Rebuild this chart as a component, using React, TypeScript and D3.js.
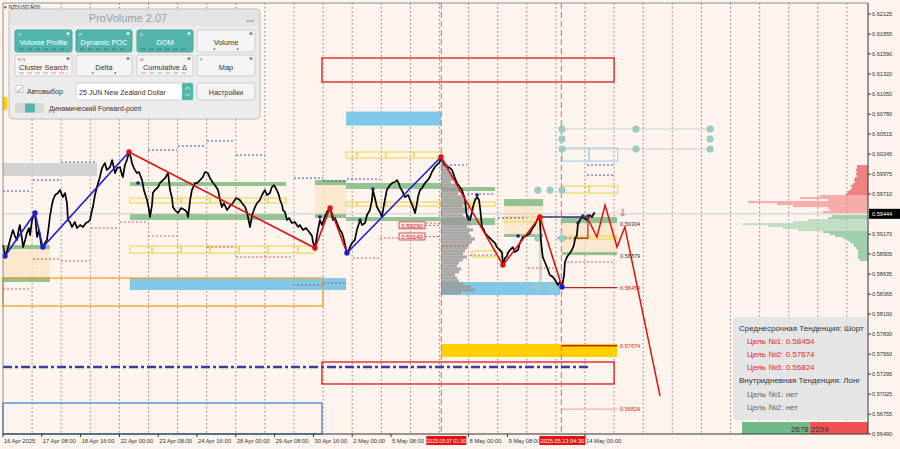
import React from 'react';
import * as d3 from 'd3';

// ---------- data ----------
const yTickValues = [0.62125, 0.61855, 0.6159, 0.6132, 0.6105, 0.6078, 0.60515, 0.60245, 0.59975, 0.5971, 0.5917, 0.58905, 0.58635, 0.58365, 0.581, 0.5783, 0.5756, 0.57295, 0.57025, 0.56755, 0.5649];
const yTickLabels = ['0.62125', '0.61855', '0.61590', '0.61320', '0.61050', '0.60780', '0.60515', '0.60245', '0.59975', '0.59710', '0.59170', '0.58905', '0.58635', '0.58365', '0.58100', '0.57830', '0.57560', '0.57295', '0.57025', '0.56755', '0.56490'];
const currentPrice = 0.59444;
const xTickDays = [0, 1.333, 2.667, 4, 5.333, 6.667, 8, 9.333, 10.667, 12, 13.333, 16, 17.333, 20];
const xTickLabels = ['16 Apr 2025', '17 Apr 08:00', '18 Apr 16:00', '22 Apr 00:00', '23 Apr 08:00', '24 Apr 16:00', '28 Apr 00:00', '29 Apr 08:00', '30 Apr 16:00', '2 May 00:00', '5 May 08:00', '8 May 00:00', '9 May 08:00', '14 May 00:00'];
const markerDays = [15.0625, 19.1875];
const markerLabels = ['2025.05.07 01:30', '2025.05.13 04:30'];

const priceSeries: [number, number][] = [
  [0.00,0.59025],[0.07,0.58878],[0.17,0.58985],[0.24,0.59092],[0.34,0.59226],[0.41,0.59146],[0.48,0.59092],[0.55,0.59253],[0.58,0.59294],[0.65,0.59119],[0.69,0.58998],[0.76,0.59092],[0.82,0.59186],[0.89,0.59253],[0.93,0.59159],[1.00,0.59361],[1.07,0.59441],[1.10,0.59455],[1.13,0.59294],[1.17,0.59133],[1.24,0.59226],[1.31,0.59039],[1.37,0.58998],[1.44,0.59052],[1.51,0.59092],[1.58,0.59294],[1.61,0.59401],[1.68,0.59562],[1.72,0.59629],[1.79,0.59696],[1.89,0.59723],[1.96,0.59763],[2.06,0.59669],[2.13,0.59723],[2.20,0.59589],[2.23,0.59361],[2.30,0.59334],[2.37,0.59267],[2.47,0.59334],[2.54,0.59253],[2.65,0.59294],[2.75,0.59267],[2.85,0.59320],[2.92,0.59334],[2.99,0.59361],[3.06,0.59495],[3.09,0.59535],[3.16,0.59696],[3.23,0.59803],[3.30,0.59897],[3.33,0.59938],[3.40,0.60058],[3.50,0.60125],[3.57,0.60032],[3.68,0.60072],[3.75,0.60166],[3.85,0.59991],[3.92,0.60058],[4.02,0.60072],[4.09,0.59964],[4.12,0.59938],[4.19,0.60099],[4.26,0.60166],[4.33,0.60273],
  [4.40,0.60193],[4.43,0.60125],[4.50,0.60058],[4.60,0.59991],[4.67,0.60005],[4.78,0.59897],[4.84,0.59763],[4.95,0.59629],[5.02,0.59495],[5.05,0.59401],[5.12,0.59562],[5.15,0.59723],[5.22,0.59763],[5.33,0.59803],[5.39,0.59857],[5.50,0.59897],[5.57,0.59924],[5.67,0.59991],[5.70,0.59897],[5.74,0.59763],[5.81,0.59656],[5.84,0.59535],[5.91,0.59495],[6.01,0.59455],[6.12,0.59522],[6.25,0.59495],[6.32,0.59468],[6.36,0.59401],[6.43,0.59629],[6.49,0.59763],[6.60,0.59857],[6.67,0.59857],[6.77,0.59897],[6.87,0.59938],[6.94,0.60005],[7.04,0.59991],[7.11,0.59924],[7.22,0.59857],[7.28,0.59830],[7.39,0.59763],[7.46,0.59629],[7.52,0.59535],[7.59,0.59589],[7.70,0.59495],[7.80,0.59548],[7.90,0.59589],[8.01,0.59656],[8.14,0.59629],[8.21,0.59589],[8.32,0.59535],[8.38,0.59468],[8.49,0.59267],[8.56,0.59428],[8.66,0.59535],[8.73,0.59589],[8.83,0.59629],[8.90,0.59696],[9.00,0.59763],[9.07,0.59696],[9.17,0.59723],[9.24,0.59803],[9.31,0.59830],[9.41,0.59763],[9.48,0.59696],[9.52,0.59629],[9.59,0.59562],[9.62,0.59495],[9.69,0.59468],[9.76,0.59361],[9.83,0.59388],[9.93,0.59320],[10.03,0.59334],[10.14,0.59267],[10.20,0.59294],[10.31,0.59226],[10.41,0.59253],[10.55,0.59186],[10.62,0.59146],[10.65,0.59065],[10.72,0.58985],
  [10.79,0.59159],[10.89,0.59361],[10.96,0.59294],[11.06,0.59401],[11.13,0.59468],[11.24,0.59522],[11.30,0.59428],[11.34,0.59361],[11.41,0.59388],[11.48,0.59320],[11.58,0.59226],[11.65,0.59186],[11.72,0.59092],[11.82,0.58918],[11.89,0.58958],[11.92,0.58998],[11.99,0.59052],[12.09,0.59092],[12.16,0.59226],[12.27,0.59361],[12.34,0.59294],[12.44,0.59320],[12.51,0.59428],[12.61,0.59495],[12.68,0.59629],[12.71,0.59763],[12.78,0.59656],[12.85,0.59535],[12.95,0.59468],[13.02,0.59401],[13.09,0.59562],[13.19,0.59763],[13.30,0.59830],[13.37,0.59857],[13.47,0.59871],[13.54,0.59897],[13.61,0.59844],[13.64,0.59803],[13.74,0.59736],[13.81,0.59669],[13.92,0.59696],[13.99,0.59629],[14.09,0.59535],[14.16,0.59455],[14.23,0.59589],[14.26,0.59669],[14.33,0.59763],[14.40,0.59790],[14.50,0.59857],[14.60,0.59897],[14.67,0.59938],[14.74,0.60005],[14.84,0.60072],[14.91,0.60099],[15.01,0.60139],[15.05,0.60206],
  [15.12,0.60139],[15.19,0.60099],[15.26,0.60072],[15.36,0.60058],[15.43,0.60032],[15.53,0.59924],[15.60,0.59857],[15.70,0.59803],[15.77,0.59763],[15.84,0.59683],[15.88,0.59629],[15.91,0.59495],[15.95,0.59401],[16.01,0.59361],[16.05,0.59361],[16.12,0.59468],[16.15,0.59535],[16.22,0.59629],[16.29,0.59669],[16.36,0.59629],[16.39,0.59535],[16.42,0.59428],[16.46,0.59267],[16.53,0.59226],[16.56,0.59186],[16.66,0.59146],[16.73,0.59119],[16.80,0.59092],[16.91,0.59052],[16.97,0.58998],[17.08,0.58958],[17.15,0.58918],[17.18,0.58757],[17.25,0.58851],[17.32,0.58878],[17.35,0.58918],[17.42,0.58958],[17.52,0.58998],[17.59,0.58931],[17.70,0.58958],[17.76,0.59052],[17.87,0.59133],[17.97,0.59146],[18.11,0.59186],[18.18,0.59240],[18.28,0.59294],[18.38,0.59388],[18.45,0.59401],[18.48,0.59119],[18.52,0.58958],[18.55,0.58864],[18.62,0.58797],[18.73,0.58690],[18.79,0.58623],[18.90,0.58596],[18.97,0.58556],[19.07,0.58489],[19.14,0.58529],[19.21,0.58462],
  [19.28,0.58623],[19.31,0.58797],[19.38,0.58864],[19.48,0.58918],[19.55,0.58958],[19.62,0.59025],[19.65,0.59092],[19.72,0.59159],[19.76,0.59320],[19.83,0.59361],[19.89,0.59401],[19.96,0.59388],[20.07,0.59361],[20.13,0.59414],[20.17,0.59428],[20.24,0.59401],[20.31,0.59455],[20.34,0.59441]
];

const blueZigA: [number, number][] = [[0.07,0.58878],[1.10,0.59455],[1.37,0.58998],[4.33,0.60273]];
const redZigA: [number, number][] = [[4.33,0.60273],[10.72,0.58985],[11.24,0.59522],[11.82,0.58918]];
const blueZigB: [number, number][] = [[11.82,0.58918],[15.05,0.60206]];
const redZigB: [number, number][] = [[15.05,0.60206],[17.18,0.58757],[18.45,0.59401],[19.21,0.58462]];
const forecast: [number, number][] = [[20.07,0.59401],[20.41,0.59133],[20.69,0.59562],[21.10,0.58998],[21.37,0.59267],[22.58,0.56999]];
const blueDots: [number, number][] = [[0.07,0.58878],[1.10,0.59455],[1.37,0.58998],[11.82,0.58918],[19.21,0.58462]];
const redDots: [number, number][] = [[4.33,0.60273],[10.72,0.58985],[11.24,0.59522],[15.05,0.60206],[17.18,0.58757],[18.45,0.59401]];
const navyDots: [number, number][] = [[4.64,0.59857],[10.89,0.59401],[12.27,0.59361],[12.71,0.59777],[15.98,0.59401],[16.29,0.59696],[17.70,0.59146],[19.76,0.5932],[19.93,0.59414],[20.10,0.59414]];
const navyLevel: [number, number][] = [[18.45,0.59401],[20.17,0.59401]];
const stepLine: [number, number][] = [[19.72,0.59119],[20.10,0.59119],[20.10,0.59401]];

// zones: [t0, t1, priceA, priceB]
const greenZones = [
  [4.36,9.73,0.59871,0.59817],[4.36,9.73,0.59441,0.59361],[0,1.61,0.59025,0.58971],[0,1.61,0.58596,0.58529],
  [10.72,11.79,0.59897,0.5983],[10.72,11.79,0.59441,0.59388],[11.79,15.05,0.59857,0.59777],[15.05,16.91,0.59803,0.5975],
  [11.79,15.05,0.59401,0.59347],[15.05,16.91,0.59388,0.59294],[17.22,18.56,0.59642,0.59548],[17.22,18.56,0.59173,0.59133],
  [19.21,21.10,0.59401,0.5932],[19.21,21.10,0.58931,0.58891]
];
const beigeZones = [[0,1.61,0.59025,0.58529],[10.72,11.79,0.59897,0.59388],[17.22,18.56,0.59642,0.59133],[19.21,21.10,0.59401,0.58891]];
const skyZones = [[4.36,11.79,0.58582,0.58421],[11.79,15.05,0.60816,0.60628],[15.05,19.14,0.58529,0.58354]];
const greyZones = [[0,3.23,0.60125,0.59951],[18.42,18.52,0.59119,0.58409]];
const goldZones = [[15.05,21.10,0.57698,0.57524],[0,0.15,0.61011,0.60836]];
const yellowBoxes: { bounds: number[]; hi: number; lo: number }[] = [
  { bounds: [4.36,5.15,6.12,7.11,8.11,9.10,9.73], hi: 0.59656, lo: 0.59589 },
  { bounds: [4.36,5.12,6.12,7.11,8.11,9.10,10.14,10.72], hi: 0.59012, lo: 0.58918 },
  { bounds: [11.79,12.16,13.16,14.12,15.05], hi: 0.60273, lo: 0.60193 },
  { bounds: [11.79,12.16,13.16,14.12,15.05,16.05,16.91], hi: 0.59602, lo: 0.59548 },
  { bounds: [16.12,17.18], hi: 0.58945, lo: 0.58864 },
  { bounds: [19.21,20.14,21.13], hi: 0.59817, lo: 0.59723 },
  { bounds: [19.21,21.10], hi: 0.59146, lo: 0.59106 },
  { bounds: [17.22,18.56], hi: 0.59401, lo: 0.59334 },
];
const lightBlueBox = { bounds: [19.21,20.14,21.13], hi: 0.60327, lo: 0.60152 };
const redBoxes = [[10.96,21.0,0.61535,0.61213],[10.96,21.0,0.57456,0.57161]];
const blueBox = [0,10.96,0.56906,0.5649];
const orangeBox = [0,11.0,0.58582,0.58207];
const dashDotLevel = { t0: 0, t1: 20.17, price: 0.57389 };

const blueDotted = [
  [0,0.93,0.5975],[1.03,1.96,0.59897],[1.99,3.23,0.60139],[4.98,5.98,0.603],[6.01,6.98,0.60354],[7.01,7.97,0.60421],[8.01,9.0,0.60233],
  [10.0,11.0,0.59924],[11.0,11.82,0.59884],[11.82,12.95,0.59911],[15.09,15.95,0.60099],[15.95,16.91,0.5971],[17.01,18.0,0.59388],
  [19.04,20.07,0.59119],[20.07,21.0,0.60099],[20.07,21.0,0.59964]
];
const redDotted = [
  [0,0.93,0.58435],[1.03,1.96,0.58837],[1.99,2.99,0.58811],[3.02,3.99,0.59253],[4.02,4.98,0.59334],[4.98,5.98,0.59146],[7.01,7.97,0.58998],
  [8.01,9.0,0.58864],[9.0,9.97,0.58864],[9.97,11.0,0.58489],[11.0,11.82,0.58516],[12.03,12.95,0.58851],[12.95,13.99,0.59119],[13.99,15.01,0.5932],
  [15.09,16.05,0.59012],[16.05,17.01,0.58891],[18.04,19.04,0.58717],[19.38,21.0,0.58797],[14.5,15.05,0.5929],[14.5,15.05,0.5914]
];
const boxedLevels = [0.5929, 0.5914];
const boxedLabels = ['0.59290', '0.59140'];
const boxedDay = 13.61;

const targetLevels = [
  { price: 0.59304, label: '0.59304', red: false, line: false },
  { price: 0.58879, label: '0.58879', red: false, line: false },
  { price: 0.58454, label: '0.58454', red: true, line: true },
  { price: 0.57674, label: '0.57674', red: true, line: true },
  { price: 0.56824, label: '0.56824', red: true, line: true },
];
const targetStart = 19.21, targetEnd = 21.10;

const tealCircles: [number, number][] = [
  [19.21,0.60582],[19.21,0.60448],[19.21,0.60313],[21.75,0.60582],[21.75,0.60313],[24.30,0.60582],[24.30,0.60448],[24.30,0.60313],
  [18.38,0.59763],[18.80,0.59763],[19.21,0.59763],[18.38,0.59119],[19.21,0.59119],[18.38,0.58462],[18.80,0.58462]
];
const tealLinks = [[19.21,24.30,0.60582],[19.21,24.30,0.60313]];

// grey session volume profile (from top bin downward)
const greyProfileTop = 0.60193;
const greyProfileBin = 0.000402;
const greyProfileStart = 15.05;
const greyProfile = [2,4,6,9,8,10,12,14,10,16,18,20,17,22,24,26,22,28,25,22,24,28,30,26,32,28,30,34,31,28,26,24,22,26,22,18,16,20,18,14,16,18,22,30,34,20];

// right-hand market profile
const sellProfileTop = 0.60085;
const profileBin = 0.000268;
const sellProfile = [11,11,12,11,12,11,13,14,13,15,17,16,18,20,22,48,68,40,120,91,75,40,38,45];
const buyProfileTop = 0.59414;
const buyProfile = [36,40,60,75,125,100,85,70,45,38,33,25,20,18,15,14,12,10,10,10,10,10,8];

const infoLines = [
  { text: 'Среднесрочная Тенденция: Шорт', kind: 'head' },
  { text: 'Цель №1: 0.58454', kind: 'target' },
  { text: 'Цель №2: 0.57674', kind: 'target' },
  { text: 'Цель №3: 0.56824', kind: 'target' },
  { text: 'Внутридневная Тенденция: Лонг', kind: 'head' },
  { text: 'Цель №1: нет', kind: 'none' },
  { text: 'Цель №2: нет', kind: 'none' },
];
const counterValues = [2678, 2299];

const panelButtons = [
  { label: 'Volume Profile', on: true, key: 'V' },
  { label: 'Dynamic POC', on: true, key: 'P' },
  { label: 'DOM', on: true, key: 'D' },
  { label: 'Volume', on: false, key: '' },
  { label: 'Cluster Search', on: false, key: 'R  N' },
  { label: 'Delta', on: false, key: '' },
  { label: 'Cumulative Δ', on: false, key: 'M' },
  { label: 'Map', on: false, key: 'F' },
];

const FONT = 'Liberation Sans, Arial, sans-serif';
const TEAL = '#52b5ab';

export default function App() {
  const L = 3, R = 868, T = 3, B = 434;
  const x = d3.scaleLinear().domain([0, 29.725]).range([L, R]);
  const y = d3.scaleLinear().domain([0.5649, 0.62125]).range([B, 14]);
  const line = d3.line<[number, number]>().x(d => x(d[0])).y(d => y(d[1]));
  const zoneRect = (z: number[]) => ({
    x: x(z[0]), y: Math.min(y(z[2]), y(z[3])), width: x(z[1]) - x(z[0]), height: Math.abs(y(z[2]) - y(z[3])),
  });
  const greyW = d3.scaleLinear().domain([0, 34]).range([0, 34]);
  const profW = d3.scaleLinear().domain([0, 125]).range([0, 125]);
  const days = d3.range(1, 30);
  const counterTotal = counterValues[0] + counterValues[1];
  const cw = d3.scaleLinear().domain([0, counterTotal]).range([0, 126]);
  const markerBoxes = [
    { x0: x(markerDays[0]) - 15, w: 40, fs: 5 },
    { x0: x(markerDays[1]) - 22, w: 46, fs: 5.6 },
  ];

  const boxSegs = (b: { bounds: number[]; hi: number; lo: number }, color: string, key: string) =>
    b.bounds.slice(0, -1).map((t0, i) => {
      const r = zoneRect([t0, b.bounds[i + 1], b.hi, b.lo]);
      return <rect key={key + i} {...r} fill="none" stroke={color} strokeWidth={1.1} />;
    });

  return (
    <svg width={900} height={449} style={{ position: 'absolute', left: 0, top: 0, background: '#fdf4ee' }} fontFamily={FONT}>
      <defs>
        <clipPath id="lbl5may"><rect x={0} y={430} width={markerBoxes[0].x0 - 1} height={19} /></clipPath>
        <clipPath id="lbl9may"><rect x={0} y={430} width={markerBoxes[1].x0 - 1} height={19} /></clipPath>
      </defs>
      <rect x={0} y={0} width={900} height={449} fill="#fdf4ee" />
      {/* vertical day grid */}
      {days.map(d => (
        <line key={'g' + d} x1={x(d)} x2={x(d)} y1={T} y2={B} stroke="#555" strokeWidth={0.7} strokeDasharray="1.5,2.5" />
      ))}
      {/* zones */}
      {beigeZones.map((z, i) => <rect key={'be' + i} {...zoneRect(z)} fill="#fbe3c4" opacity={0.75} />)}
      {greyZones.map((z, i) => <rect key={'gr' + i} {...zoneRect(z)} fill="#cfcfcf" opacity={0.9} />)}
      {skyZones.map((z, i) => <rect key={'sk' + i} {...zoneRect(z)} fill="#7fc8e8" />)}
      {goldZones.map((z, i) => <rect key={'go' + i} {...zoneRect(z)} fill="#ffd000" />)}
      {greenZones.map((z, i) => <rect key={'gz' + i} {...zoneRect(z)} fill="#8dbf8d" opacity={0.95} />)}
      {yellowBoxes.map((b, i) => boxSegs(b, '#ecd64a', 'yb' + i))}
      {boxSegs(lightBlueBox, '#9fd0e8', 'lb')}
      {redBoxes.map((z, i) => <rect key={'rb' + i} {...zoneRect(z)} fill="none" stroke="#e01818" strokeWidth={1.3} />)}
      <rect {...zoneRect(blueBox)} fill="none" stroke="#3c8ad0" strokeWidth={1.3} />
      <rect {...zoneRect(orangeBox)} fill="none" stroke="#f0a020" strokeWidth={1.3} />

      {/* grey session volume profile */}
      {greyProfile.map((v, i) => {
        const p = greyProfileTop - i * greyProfileBin;
        return <rect key={'gp' + i} x={x(greyProfileStart)} y={y(p) - 1.5} width={greyW(v)} height={3.1} fill="#9a9a9a" opacity={0.85} />;
      })}

      {/* current price line */}
      <line x1={L} x2={R} y1={y(currentPrice)} y2={y(currentPrice)} stroke="#c4c4c4" strokeWidth={0.8} />

      {/* dotted levels */}
      {blueDotted.map((d, i) => (
        <line key={'bd' + i} x1={x(d[0])} x2={x(d[1])} y1={y(d[2])} y2={y(d[2])} stroke="#3434a8" strokeWidth={0.9} strokeDasharray="2,2" />
      ))}
      {redDotted.map((d, i) => (
        <line key={'rd' + i} x1={x(d[0])} x2={x(d[1])} y1={y(d[2])} y2={y(d[2])} stroke="#d04848" strokeWidth={0.9} strokeDasharray="2,2" />
      ))}

      {/* marker vertical lines */}
      {markerDays.map((d, i) => (
        <line key={'mk' + i} x1={x(d)} x2={x(d)} y1={T} y2={B} stroke="#e06666" strokeWidth={1} strokeDasharray="6,3" />
      ))}

      {/* dash-dot level */}
      <line x1={x(dashDotLevel.t0)} x2={x(dashDotLevel.t1)} y1={y(dashDotLevel.price)} y2={y(dashDotLevel.price)} stroke="#3c3ca0" strokeWidth={2.6} strokeDasharray="9,3,3,3" />

      {/* target level lines */}
      {targetLevels.filter(t => t.line).map((t, i) => (
        <line key={'tl' + i} x1={x(targetStart)} x2={x(targetEnd)} y1={y(t.price)} y2={y(t.price)}
          stroke={t.price < 0.57 ? '#e4a0a0' : '#c82020'} strokeWidth={t.price < 0.57 ? 1 : 1.4} />
      ))}
      {targetLevels.map((t, i) => (
        <text key={'tt' + i} x={x(targetEnd) + 3} y={y(t.price) + 2} fontSize={5.6} fill={t.red ? '#e02020' : '#333'}>{t.label}</text>
      ))}
      <text x={x(targetEnd) + 2} y={y(currentPrice) + 2} fontSize={9} fill="#e02020">⇩</text>

      {/* teal circles */}
      {tealLinks.map((l, i) => (
        <line key={'tk' + i} x1={x(l[0])} x2={x(l[1])} y1={y(l[2])} y2={y(l[2])} stroke="#cfc8c4" strokeWidth={0.9} />
      ))}
      {tealCircles.map((c, i) => <circle key={'tc' + i} cx={x(c[0])} cy={y(c[1])} r={3.6} fill="#9ccbc5" />)}

      {/* price */}
      <path d={line(priceSeries) || ''} fill="none" stroke="#000" strokeWidth={1.7} strokeLinejoin="round" />
      {navyDots.map((c, i) => <circle key={'nd' + i} cx={x(c[0])} cy={y(c[1])} r={1.8} fill="#202070" />)}

      {/* zigzags */}
      <path d={line(blueZigA) || ''} fill="none" stroke="#1c1cd8" strokeWidth={1.6} />
      <path d={line(blueZigB) || ''} fill="none" stroke="#1c1cd8" strokeWidth={1.6} />
      <path d={line(redZigA) || ''} fill="none" stroke="#e01010" strokeWidth={1.6} />
      <path d={line(redZigB) || ''} fill="none" stroke="#e01010" strokeWidth={1.6} />
      <path d={line(navyLevel) || ''} fill="none" stroke="#303080" strokeWidth={1.4} />
      <path d={line(stepLine) || ''} fill="none" stroke="#a03030" strokeWidth={1.2} />
      <path d={line(forecast) || ''} fill="none" stroke="#e01010" strokeWidth={1.5} />
      {blueDots.map((c, i) => <circle key={'bdot' + i} cx={x(c[0])} cy={y(c[1])} r={2.7} fill="#1c1cd8" />)}
      {redDots.map((c, i) => <circle key={'rdot' + i} cx={x(c[0])} cy={y(c[1])} r={2.7} fill="#e01010" />)}

      {/* boxed labels */}
      {boxedLevels.map((p, i) => (
        <g key={'bl' + i}>
          <rect x={x(boxedDay)} y={y(p) - 3.5} width={26} height={7} fill="#fbe8e6" stroke="#d03030" strokeWidth={0.8} />
          <text x={x(boxedDay) + 13} y={y(p) + 2.2} fontSize={6} textAnchor="middle" fill="#d02020">{boxedLabels[i]}</text>
        </g>
      ))}

      {/* right market profile */}
      {sellProfile.map((v, i) => (
        <rect key={'sp' + i} x={R - profW(v)} y={y(sellProfileTop - i * profileBin) - 1} width={profW(v)} height={2.1} fill="#f28080" opacity={v > 30 ? 0.6 : 1} />
      ))}
      {buyProfile.map((v, i) => (
        <rect key={'bp' + i} x={R - profW(v)} y={y(buyProfileTop - i * profileBin) - 1} width={profW(v)} height={2.1} fill="#9fcfaa" opacity={v > 45 ? 0.6 : 1} />
      ))}

      {/* info box */}
      <rect x={733} y={317} width={134} height={103} rx={4} fill="#e4e4e4" opacity={0.95} />
      {infoLines.map((l, i) => (
        <text key={'il' + i} x={l.kind === 'head' ? 739 : 747} y={331 + i * 13.1} fontSize={8}
          fill={l.kind === 'target' ? '#e02828' : l.kind === 'head' ? '#333' : '#666'}>{l.text}</text>
      ))}
      {/* counter bar */}
      <rect x={742} y={422} width={cw(counterValues[0])} height={12} fill="#70b98a" />
      <rect x={742 + cw(counterValues[0])} y={422} width={cw(counterValues[1])} height={12} fill="#f05252" />
      <text x={742 + cw(counterValues[0]) - 1} y={431.5} fontSize={8} textAnchor="end" fill="#333">{counterValues[0]}</text>
      <text x={742 + cw(counterValues[0]) + 1} y={431.5} fontSize={8} fill="#333">{counterValues[1]}</text>

      {/* axes frame */}
      <line x1={R} x2={R} y1={T} y2={B} stroke="#333" strokeWidth={1} />
      <line x1={L} x2={R} y1={B} y2={B} stroke="#333" strokeWidth={1} />
      <line x1={L} x2={L} y1={T} y2={B} stroke="#777" strokeWidth={0.8} />
      <line x1={L} x2={R} y1={T} y2={T} stroke="#777" strokeWidth={0.8} />
      {yTickValues.map((v, i) => (
        <g key={'yt' + i}>
          <line x1={R} x2={R + 3} y1={y(v)} y2={y(v)} stroke="#333" />
          <text x={R + 4} y={y(v) + 2} fontSize={5.6} fill="#333">{yTickLabels[i]}</text>
        </g>
      ))}
      <rect x={R + 1} y={y(currentPrice) - 5} width={31} height={10} fill="#000" />
      <text x={R + 4} y={y(currentPrice) + 2} fontSize={5.6} fill="#fff">{currentPrice.toFixed(5)}</text>
      {xTickDays.map((d, i) => (
        <g key={'xt' + i}>
          <line x1={x(d)} x2={x(d)} y1={B} y2={B + 3} stroke="#333" />
          <text x={x(d) + 1} y={443} fontSize={5.8} fill="#333"
            clipPath={xTickLabels[i] === '5 May 08:00' ? 'url(#lbl5may)' : xTickLabels[i] === '9 May 08:00' ? 'url(#lbl9may)' : undefined}>{xTickLabels[i]}</text>
        </g>
      ))}
      {markerDays.map((d, i) => (
        <g key={'xm' + i}>
          <rect x={markerBoxes[i].x0} y={436} width={markerBoxes[i].w} height={9} fill="#e81010" />
          <text x={markerBoxes[i].x0 + markerBoxes[i].w / 2} y={443} fontSize={markerBoxes[i].fs} textAnchor="middle" fill="#fff">{markerLabels[i]}</text>
        </g>
      ))}

      {/* symbol caption */}
      <text x={4} y={9} fontSize={5} fill="#222">▾ NZDUSD,M30</text>

      {/* ProVolume panel */}
      <g>
        <rect x={9} y={9} width={251} height={110} rx={4} fill="#ececec" stroke="#bdbdbd" />
        <rect x={10} y={10} width={249} height={16} rx={3} fill="#e4e4e4" />
        <text x={128} y={21.5} fontSize={11} textAnchor="middle" fill="#9c9c9c">ProVolume 2.07</text>
        <line x1={246} x2={254} y1={21} y2={21} stroke="#9c9c9c" strokeWidth={1.2} />
        {panelButtons.map((b, i) => {
          const col = i % 4, row = Math.floor(i / 4);
          const xs = [15, 76, 137, 197][col];
          const ws = [57, 56, 56, 58][col];
          const ys = row === 0 ? 30 : 55;
          const hs = row === 0 ? 22 : 21;
          return (
            <g key={'pb' + i}>
              <rect x={xs} y={ys} width={ws} height={hs} rx={2} fill={b.on ? TEAL : '#f4f4f4'} stroke={b.on ? '#49a59b' : '#cfcfcf'} />
              <text x={xs + ws / 2} y={ys + 14.5} fontSize={7.4} textAnchor="middle" fill={b.on ? '#fff' : '#333'}>{b.label}</text>
              {b.key && <text x={xs + 3} y={ys + 5.5} fontSize={4.2} fill={b.on ? '#e8f6f4' : '#777'}>{b.key}</text>}
              <circle cx={xs + ws - 4} cy={ys + 3.5} r={1.6} fill={b.on ? '#e0f2ef' : '#888'} />
              {b.on && <line x1={xs + 4} x2={xs + ws - 4} y1={ys + hs - 3} y2={ys + hs - 3} stroke="#2f6f68" strokeWidth={0.7} strokeDasharray="5,3" />}
              {!b.on && (i === 4 || i === 6) && <line x1={xs + 4} x2={xs + ws - 4} y1={ys + hs - 3} y2={ys + hs - 3} stroke={i === 4 ? '#e06060' : '#60a070'} strokeWidth={0.7} strokeDasharray="5,3" />}
              {!b.on && (i === 3 || i === 5) && (
                <g>
                  <circle cx={xs + ws * 0.3} cy={ys + hs - 3} r={0.9} fill="#3a9a50" />
                  <circle cx={xs + ws * 0.7} cy={ys + hs - 3} r={0.9} fill="#d04040" />
                </g>
              )}
            </g>
          );
        })}
        <rect x={16} y={85.5} width={7} height={7} fill="#fff" stroke="#aaa" strokeWidth={0.6} />
        <text x={16} y={93} fontSize={9} fill={TEAL}>✓</text>
        <text x={27} y={93.5} fontSize={7} fill="#333">Автовыбор</text>
        <rect x={76} y={83} width={117} height={17} rx={2} fill="#fff" stroke="#cfcfcf" />
        <text x={79} y={94.5} fontSize={7} fill="#333">25 JUN New Zealand Dollar</text>
        <rect x={182} y={83} width={11} height={17} rx={1.5} fill={TEAL} />
        <path d="M185,89.5 L187.5,87 L190,89.5 M185,93.5 L187.5,96 L190,93.5" fill="none" stroke="#fff" strokeWidth={0.8} />
        <rect x={197} y={83} width={58} height={17} rx={2} fill="#f4f4f4" stroke="#cfcfcf" />
        <text x={226} y={94.5} fontSize={7} textAnchor="middle" fill="#333">Настройки</text>
        <rect x={15} y={103} width={29} height={10} rx={2} fill="#d8d8d8" />
        <rect x={25} y={103.5} width={10} height={9} rx={1.5} fill={TEAL} />
        <text x={49} y={111} fontSize={7} fill="#333">Динамический Forward-point</text>
      </g>
    </svg>
  );
}
